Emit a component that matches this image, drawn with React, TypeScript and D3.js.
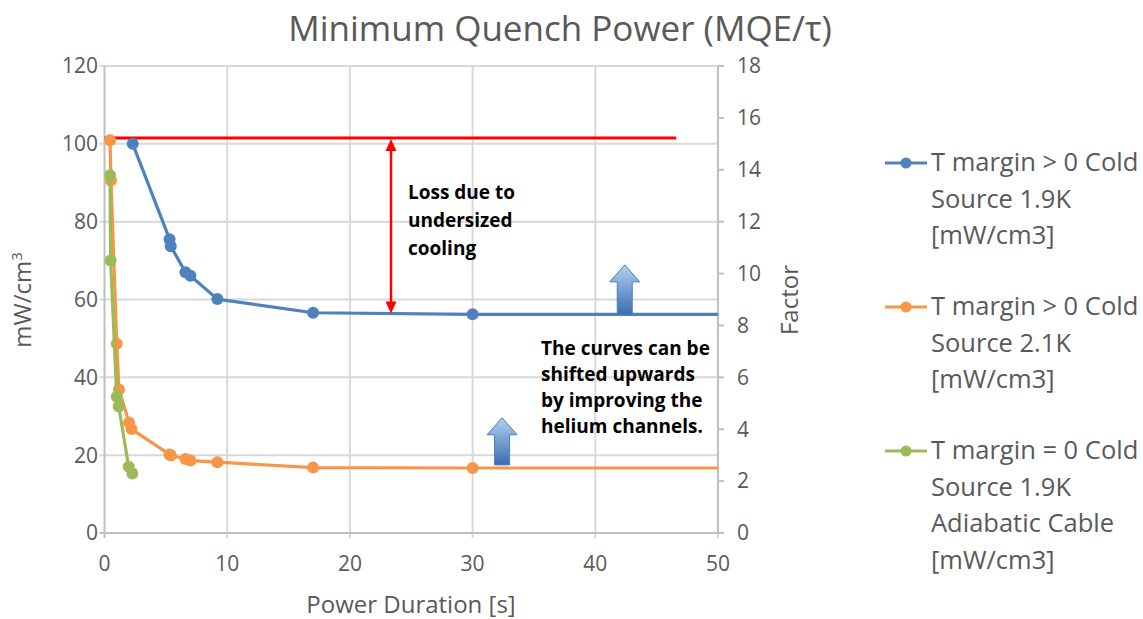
import React, { useEffect, useRef } from 'react';
import * as d3 from 'd3';

// series (x = power duration [s], y = mW/cm3)
const blueX = [2.3, 5.3, 5.4, 6.6, 7.0, 9.2, 17, 30, 60];
const blueY = [100, 75.5, 73.7, 67, 66.1, 60.1, 56.6, 56.2, 56.2];
const orangeX = [0.45, 0.53, 1.0, 1.18, 2.0, 2.2, 5.3, 5.4, 6.6, 7.0, 9.2, 17, 30, 60];
const orangeY = [100.9, 90.6, 48.6, 36.9, 28.4, 26.7, 20.2, 19.9, 19.0, 18.6, 18.2, 16.8, 16.7, 16.7];
const greenX = [0.45, 0.5, 1.0, 1.16, 1.97, 2.27];
const greenY = [91.9, 70, 35, 32.5, 17.0, 15.3];

const seriesNames = [
  ['T margin > 0 Cold', 'Source 1.9K', '[mW/cm3]'],
  ['T margin > 0 Cold', 'Source 2.1K', '[mW/cm3]'],
  ['T margin = 0 Cold', 'Source 1.9K', 'Adiabatic Cable', '[mW/cm3]'],
];
const seriesColors = ['#4F81BD', '#F79646', '#9BBB59'];

const xTicks = [0, 10, 20, 30, 40, 50];
const yTicks = [0, 20, 40, 60, 80, 100, 120];
const y2Ticks = [0, 2, 4, 6, 8, 10, 12, 14, 16, 18];

// annotations in data units
const refLevel = 101.5;
const refLineEnd = 46.6;
const lossArrowX = 23.35;
const lossArrowBottom = 56.4;
const lossText = ['Loss due to', 'undersized', 'cooling'];
const shiftText = ['The curves can be', 'shifted upwards', 'by improving the', 'helium channels.'];
const upArrows = [
  { x: 42.4, top: 68.9, bottom: 56.1 },
  { x: 32.4, top: 29.6, bottom: 17.5 },
];

const FONT = "'Open Sans', sans-serif";
const GREY = '#595959';

export default function App() {
  const svgRef = useRef<SVGSVGElement>(null);

  useEffect(() => {
    if (!svgRef.current) return;
    const svg = d3.select(svgRef.current);
    svg.selectAll('*').remove();

    const left = 104.5, right = 718, top = 66, bottom = 533;
    const x = d3.scaleLinear().domain([0, 50]).range([left, right]);
    const y = d3.scaleLinear().domain([0, 120]).range([bottom, top]);
    const y2 = d3.scaleLinear().domain([0, 18]).range([bottom, top]);

    const defs = svg.append('defs');
    defs.append('clipPath').attr('id', 'plot-clip')
      .append('rect').attr('x', left).attr('y', top - 10)
      .attr('width', right - left).attr('height', bottom - top + 20);
    const grad = defs.append('linearGradient').attr('id', 'arrow-grad')
      .attr('x1', 0).attr('y1', 0).attr('x2', 0).attr('y2', 1);
    grad.append('stop').attr('offset', '0%').attr('stop-color', '#B4D0F0');
    grad.append('stop').attr('offset', '100%').attr('stop-color', '#3A6DB0');

    // gridlines
    svg.append('g').selectAll('line').data(yTicks.filter((d) => d > 0)).join('line')
      .attr('x1', left - 5).attr('x2', right)
      .attr('y1', (d) => y(d)).attr('y2', (d) => y(d))
      .attr('stroke', '#D9D9D9').attr('stroke-width', 2);
    svg.append('g').selectAll('line').data(xTicks.filter((d) => d > 0)).join('line')
      .attr('x1', (d) => x(d)).attr('x2', (d) => x(d))
      .attr('y1', top).attr('y2', bottom + 5)
      .attr('stroke', '#D9D9D9').attr('stroke-width', 2);

    // axis lines + ticks
    const axisCol = '#BFBFBF';
    svg.append('line').attr('x1', left).attr('x2', left).attr('y1', top).attr('y2', bottom + 5)
      .attr('stroke', axisCol).attr('stroke-width', 2);
    svg.append('line').attr('x1', left - 5).attr('x2', right).attr('y1', bottom).attr('y2', bottom)
      .attr('stroke', axisCol).attr('stroke-width', 2);
    svg.append('line').attr('x1', right).attr('x2', right).attr('y1', top).attr('y2', bottom)
      .attr('stroke', axisCol).attr('stroke-width', 2);
    svg.append('g').selectAll('line').data(y2Ticks).join('line')
      .attr('x1', right).attr('x2', right + 6)
      .attr('y1', (d) => y2(d)).attr('y2', (d) => y2(d))
      .attr('stroke', axisCol).attr('stroke-width', 2);

    // tick labels
    svg.append('g').selectAll('text').data(yTicks).join('text')
      .attr('x', 98).attr('y', (d) => y(d)).attr('dy', '0.35em')
      .attr('text-anchor', 'end').attr('font-size', 21).attr('font-family', FONT)
      .attr('fill', GREY).text((d) => d);
    svg.append('g').selectAll('text').data(y2Ticks).join('text')
      .attr('x', 737).attr('y', (d) => y2(d)).attr('dy', '0.35em')
      .attr('text-anchor', 'start').attr('font-size', 21).attr('font-family', FONT)
      .attr('fill', GREY).text((d) => d);
    svg.append('g').selectAll('text').data(xTicks).join('text')
      .attr('x', (d) => x(d)).attr('y', 564).attr('dy', '0.35em')
      .attr('text-anchor', 'middle').attr('font-size', 21).attr('font-family', FONT)
      .attr('fill', GREY).text((d) => d);

    // titles
    svg.append('text').attr('x', 560).attr('y', 41).attr('text-anchor', 'middle')
      .attr('font-size', 35).attr('font-family', FONT).attr('fill', GREY)
      .text('Minimum Quench Power (MQE/τ)');
    svg.append('text').attr('x', 411).attr('y', 613).attr('text-anchor', 'middle')
      .attr('font-size', 24).attr('font-family', FONT).attr('fill', GREY)
      .text('Power Duration [s]');
    const yt = svg.append('text').attr('transform', 'translate(31,300) rotate(-90)')
      .attr('text-anchor', 'middle').attr('font-size', 24).attr('font-family', FONT).attr('fill', GREY);
    yt.append('tspan').text('mW/cm');
    yt.append('tspan').attr('dy', -9).attr('font-size', 15).text('3');
    svg.append('text').attr('transform', 'translate(798,300) rotate(-90)')
      .attr('text-anchor', 'middle').attr('font-size', 24).attr('font-family', FONT).attr('fill', GREY)
      .text('Factor');

    // reference level line
    svg.append('line').attr('x1', x(0)).attr('x2', x(refLineEnd))
      .attr('y1', y(refLevel)).attr('y2', y(refLevel))
      .attr('stroke', '#FF0000').attr('stroke-width', 3);

    // series
    const plot = svg.append('g').attr('clip-path', 'url(#plot-clip)');
    const series = [
      { xs: blueX, ys: blueY, color: seriesColors[0] },
      { xs: orangeX, ys: orangeY, color: seriesColors[1] },
      { xs: greenX, ys: greenY, color: seriesColors[2] },
    ];
    const line = d3.line<[number, number]>().x((d) => x(d[0])).y((d) => y(d[1]));
    series.forEach(({ xs, ys, color }) => {
      const pts = xs.map((v, i) => [v, ys[i]] as [number, number]);
      plot.append('path').datum(pts).attr('d', line)
        .attr('fill', 'none').attr('stroke', color).attr('stroke-width', 3.2)
        .attr('stroke-linejoin', 'round');
      plot.append('g').selectAll('circle').data(pts.filter((p) => p[0] <= 50)).join('circle')
        .attr('cx', (d) => x(d[0])).attr('cy', (d) => y(d[1])).attr('r', 6)
        .attr('fill', color);
    });

    // loss double arrow
    const ax = x(lossArrowX);
    const aTop = y(refLevel) + 1;
    const aBot = y(lossArrowBottom);
    svg.append('line').attr('x1', ax).attr('x2', ax).attr('y1', aTop + 10).attr('y2', aBot - 10)
      .attr('stroke', '#FF0000').attr('stroke-width', 2.5);
    svg.append('path').attr('d', `M${ax},${aTop} L${ax - 5.5},${aTop + 12} L${ax + 5.5},${aTop + 12} Z`)
      .attr('fill', '#FF0000');
    svg.append('path').attr('d', `M${ax},${aBot} L${ax - 5.5},${aBot - 12} L${ax + 5.5},${aBot - 12} Z`)
      .attr('fill', '#FF0000');

    svg.append('g').selectAll('text').data(lossText).join('text')
      .attr('x', 408).attr('y', (_, i) => 199 + i * 28)
      .attr('font-size', 19).attr('font-weight', 'bold').attr('font-family', FONT)
      .attr('fill', '#000').text((d) => d);
    svg.append('g').selectAll('text').data(shiftText).join('text')
      .attr('x', 541).attr('y', (_, i) => 355 + i * 26)
      .attr('font-size', 19).attr('font-weight', 'bold').attr('font-family', FONT)
      .attr('fill', '#000').text((d) => d);

    // block up arrows
    upArrows.forEach((a) => {
      const cx = x(a.x), t = y(a.top), b = y(a.bottom);
      const headW = 15, shaftW = 7.5, headH = 17;
      svg.append('path')
        .attr('d', `M${cx},${t} L${cx + headW},${t + headH} L${cx + shaftW},${t + headH} L${cx + shaftW},${b} L${cx - shaftW},${b} L${cx - shaftW},${t + headH} L${cx - headW},${t + headH} Z`)
        .attr('fill', 'url(#arrow-grad)').attr('stroke', '#4A7EBB').attr('stroke-width', 1);
    });

    // legend
    const legendTops = [171, 315, 459];
    seriesNames.forEach((lines, i) => {
      const ly = legendTops[i] - 8;
      svg.append('line').attr('x1', 885).attr('x2', 927).attr('y1', ly).attr('y2', ly)
        .attr('stroke', seriesColors[i]).attr('stroke-width', 3.2);
      svg.append('circle').attr('cx', 906).attr('cy', ly).attr('r', 5.5).attr('fill', seriesColors[i]);
      svg.append('g').selectAll('text').data(lines).join('text')
        .attr('x', 931).attr('y', (_, j) => legendTops[i] + j * 36.5)
        .attr('font-size', 25.5).attr('font-family', FONT).attr('fill', GREY)
        .text((d) => d);
    });
  }, []);

  return (
    <svg ref={svgRef} width={1143} height={619}
      style={{ position: 'absolute', left: 0, top: 0, background: '#fff' }} />
  );
}
